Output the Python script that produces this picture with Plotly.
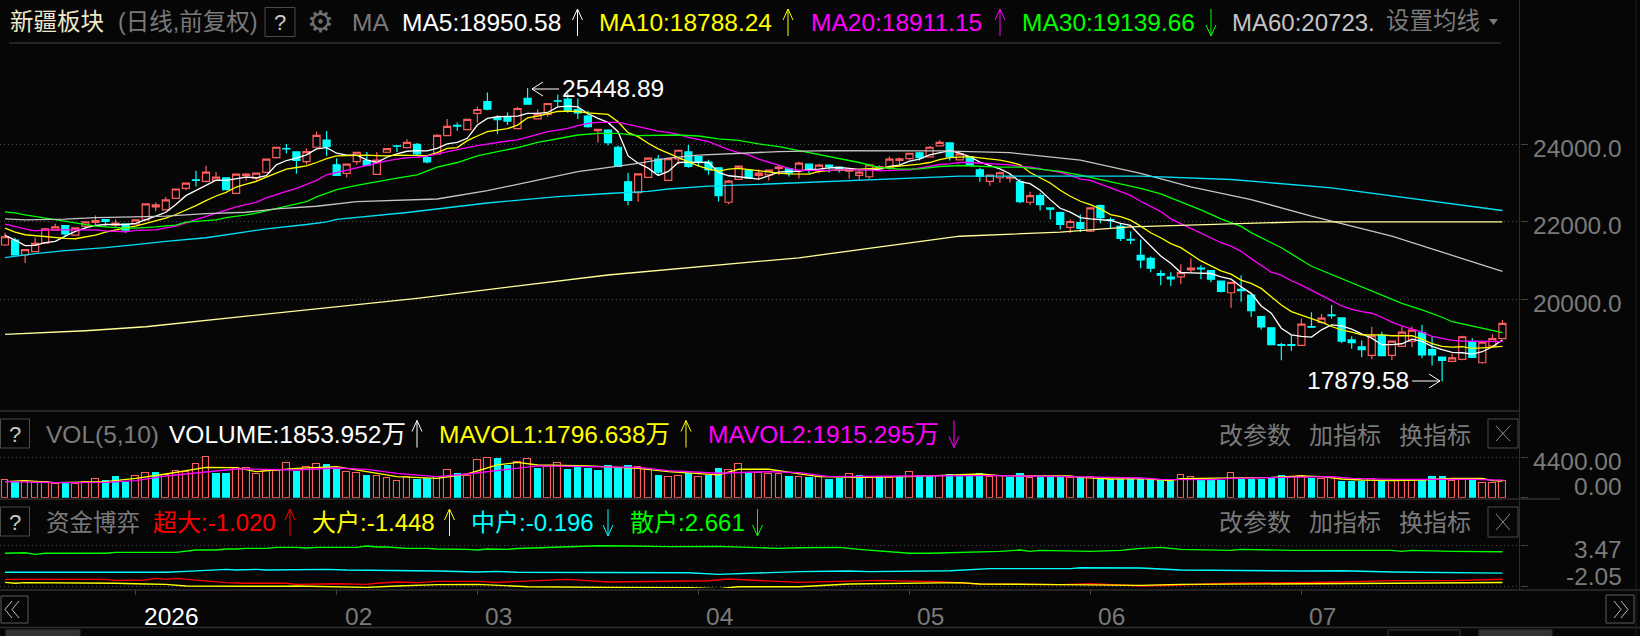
import plotly.graph_objects as go

W, H = 1640, 636
BG = "#060606"
RED = "#ff5f5f"
CYAN = "#00ffff"
GREY = "#7a7a7a"
LINE = "#2e2e2e"
FONT = "Liberation Sans, Noto Sans CJK SC, sans-serif"

opens = [21401,21529,21144,21230,21452,21786,21905,21657,21888,21982,22059,21914,21939,21939,22051,22384,22307,22606,22863,23085,23042,23068,23136,22735,23188,23128,23273,23658,23889,23803,23555,23923,
24111,23470,23248,23555,23581,23222,23795,23957,23915,24000,23658,23752,24222,24487,24376,24795,25103,24684,24701,24402,25188,24658,24770,25120,25163,24898,24727,24350,24368,23923,23034,22751,
23145,23615,23068,23624,23803,23684,23538,23393,22504,23094,23325,23196,23213,23376,23367,23325,23487,23316,23461,23410,23307,23196,23162,23367,23384,23581,23632,23778,23675,23957,24034,23598,23684,23342,23042,23136,23128,23034,22504,22675,22359,22239,21855,21982,21760,22418,22059,21880,21546,21136,21059,20666,20572,20580,20760,20803,20743,20469,20170,20256,20111,19555,19265,18829,18829,18812,19299,19402,19598,19521,18957,18777,18555,19068,18555,18786,18923,19136,18700,18512,18401,18452,18906,18364,18795,18984]
closes = [21614,21144,21281,21444,21820,21871,21691,21845,22000,22033,22008,21965,21786,22051,22461,22435,22564,22846,23000,23068,23282,23154,22829,23230,23230,23256,23615,23923,23880,23581,23812,24231,
23940,23196,23487,23795,23461,23590,23889,23949,24051,23752,23547,24231,24462,24470,24641,24898,24906,24633,24599,24923,25035,24778,25052,25111,24881,24812,24453,24385,24043,23427,22555,23234,
23641,23282,23632,23846,23427,23538,23342,22675,23051,23436,23128,23256,23333,23410,23256,23513,23342,23461,23419,23376,23342,23282,23470,23427,23615,23624,23769,23658,23923,24051,23675,23752,23461,23171,23205,23265,23154,22521,22675,22444,22325,21931,22008,21828,22358,22110,22042,21572,21529,21016,20802,20623,20530,20691,20803,20785,20520,20204,20435,20222,19709,19290,18829,18812,18812,19359,19282,19513,19581,18923,18880,18700,19060,18546,18923,19153,19205,18564,18564,18427,18487,19035,18503,18898,18984,19381]
highs = [21717,21589,21298,21589,21837,21948,21914,21854,22017,22162,22059,22059,21948,22068,22470,22495,22641,22855,23009,23316,23444,23282,23145,23239,23256,23265,23624,23932,24009,23812,23897,24333,
24342,23641,23496,23803,23803,23803,23898,23983,24128,24034,23718,24257,24650,24564,24650,24975,25334,24752,24821,24966,25448.89,24898,25060,25282,25325,25180,24864,24393,24385,23966,23265,23243,
23650,23726,23641,23855,23983,23692,23598,23402,23077,23445,23359,23359,23342,23444,23402,23547,23496,23496,23478,23419,23376,23342,23496,23461,23684,23658,23778,23803,23957,24103,24043,23785,23692,23393,23214,23299,23239,23102,22778,22743,22368,22265,22059,22188,22367,22444,22110,21965,21752,21546,21102,20752,20701,20905,21059,20880,20752,20478,20444,20624,20120,19564,19274,18871,19077,19504,19667,19624,19855,19530,19042,18940,19290,19162,18932,19290,19299,19342,19025,18521,18598,19060,18994,18915,19097,19466]
lows = [21375,21136,20939,21221,21444,21768,21615,21649,21845,21888,21888,21845,21717,21931,22042,22273,22299,22598,22812,22914,23017,23060,22820,22726,23068,23034,23265,23632,23760,23239,23478,23915,
23701,23188,23145,23470,23444,23213,23778,23803,23906,23726,23504,23735,24214,24350,24368,24556,24881,24265,24496,24393,25017,24650,24710,24983,24812,24650,24427,24043,23966,23418,22427,22519,
23136,23205,23059,23487,23393,23427,23213,22521,22452,23085,23119,23085,23068,23205,23171,23120,23248,23248,23273,23273,23111,23085,23111,23342,23342,23470,23598,23581,23666,23940,23581,23580,23452,23034,22931,23009,23017,22478,22427,22290,22059,21803,21709,21734,21734,21965,21820,21504,21418,20802,20700,20366,20341,20392,20691,20520,20443,20178,19785,19940,19547,19222,18820,18427,18675,18803,19265,19367,19496,18871,18726,18504,18452,18530,18427,18770,18769,18478,18290,17879.58,18376,18430,18486,18338,18777,18968]

ma5 = [21649,21529,21384,21392,21461,21495,21632,21751,21845,21905,21931,21931,21931,21957,22042,22145,22247,22444,22675,22803,22940,23077,23068,23111,23154,23136,23188,23470,23581,23641,23726,23880,23914,23769,23718,23718,23598,23530,23666,23752,23820,23838,23829,23897,24009,24051,24154,24496,24667,24710,24710,24727,24795,24795,24821,24966,24983,24966,24795,24667,24564,24325,23700,23513,23384,23196,23299,23530,23538,23530,23530,23273,23188,23162,23136,23102,23188,23282,23299,23299,23350,23359,23393,23401,23376,23350,23350,23359,23427,23461,23564,23615,23726,23786,23838,23769,23684,23538,23453,23367,23239,23034,22983,22812,22572,22350,22248,22110,22076,22059,22034,21957,21906,21632,21376,21120,20932,20692,20683,20683,20666,20580,20521,20325,20154,19829,19641,19256,19085,19042,19025,19213,19342,19316,19231,19111,19000,18829,18829,18854,18974,18914,18786,18700,18632,18622,18589,18648,18777,18950.58]
ma10 = [21837,21734,21666,21640,21614,21589,21572,21563,21614,21657,21734,21794,21845,21888,21957,22034,22094,22188,22299,22418,22547,22666,22760,22897,22974,23042,23154,23256,23359,23401,23444,23530,23632,23701,23709,23726,23718,23709,23701,23718,23718,23718,23709,23786,23897,23914,24094,24214,24325,24368,24402,24496,24684,24727,24795,24846,24855,24846,24812,24795,24770,24581,24299,24197,24026,23880,23769,23641,23547,23444,23359,23307,23359,23376,23342,23325,23273,23256,23239,23230,23230,23299,23325,23342,23333,23350,23367,23376,23410,23436,23453,23487,23530,23607,23658,23680,23684,23650,23624,23590,23538,23470,23273,23128,23000,22812,22658,22530,22444,22333,22188,22136,22042,21888,21718,21590,21436,21333,21162,20990,20863,20735,20650,20496,20410,20282,20068,19855,19684,19598,19496,19410,19299,19213,19153,19085,19085,19085,19060,19060,19060,18974,18854,18786,18769,18777,18735,18750,18777,18788.24]
ma20 = [21939,21871,21820,21768,21794,21794,21794,21794,21794,21794,21768,21760,21743,21777,21794,21794,21845,21888,21974,22059,22145,22213,22299,22384,22444,22504,22615,22709,22786,22863,22957,23068,23213,23273,23342,23410,23461,23530,23572,23615,23658,23666,23692,23752,23811,23871,23914,23966,24009,24051,24085,24111,24180,24239,24325,24368,24410,24479,24538,24564,24564,24564,24513,24453,24402,24342,24308,24256,24180,24128,24069,23966,23863,23786,23726,23615,23538,23444,23376,23325,23325,23316,23325,23342,23342,23342,23342,23316,23316,23333,23342,23384,23427,23478,23496,23530,23530,23513,23504,23496,23470,23427,23410,23368,23325,23273,23205,23102,23068,22974,22889,22786,22683,22530,22402,22264,22077,21957,21820,21700,21580,21460,21374,21238,21050,20880,20700,20624,20479,20368,20239,20111,19966,19829,19743,19684,19641,19538,19410,19316,19231,19154,19042,18991,18940,18925,18920,18915,18912,18911.15]

ma30_x = [0,1,2,3,4,5,6,7,8,9,10,11,12,13,14,15,16,17,18,19,20,21,22,23,24,25,26,27,28,29,30,31,32,33,35,37,39,41,43,45,47,49,51,53,55,57,59,61,63,65,67,69,71,73,75,77,79,81,83,85,87,89,91,93,95,97,99,101,103,105,107,109,111,113,115,117,119,121,123,124,127,130,134,137,139,141,143,144,147,149]
ma30 = [22256,22230,22179,22136,22102,22059,22008,21974,21931,21888,21871,21845,21837,21837,21845,21871,21897,21914,21991,22008,22034,22051,22110,22136,22179,22222,22281,22333,22401,22470,22521,22641,22743,22829,22940,23042,23128,23213,23410,23530,23701,23812,23915,24051,24154,24239,24282,24282,24222,24222,24239,24214,24137,24103,24009,23940,23838,23735,23624,23530,23402,23359,23367,23427,23453,23427,23410,23410,23359,23299,23205,23094,22991,22863,22718,22521,22308,22077,21880,21720,21330,20854,20436,20111,19897,19726,19538,19422,19252,19139.66]
ma60_x = [0,2,6,9,14,16,20,24,27,31,35,43,48,53,57,63,66,69,72,75,77,82,88,93,96,100,107,113,118,124,130,138,149]
ma60 = [22076,22050,22068,22110,22136,22145,22213,22247,22333,22401,22519,22589,22803,23079,23293,23510,23641,23718,23760,23795,23812,23838,23838,23829,23809,23783,23590,23251,22900,22575,22145,21628,20723]
ma120_x = [0,3,6,10,13,16,20,23,26,30,32,33,40,48,55,60,64,66,70,75,78,82,88,92,95,113,122,132,143,149]
ma120 = [21076,21178,21255,21332,21409,21495,21589,21708,21820,21931,22000,22065,22240,22485,22650,22730,22785,22846,22923,22965,23000,23034,23102,23145,23181,23176,23091,22877,22490,22292]
ma250_x = [0,8,14,21,29,35,41,60,79,95,105,112,122,129,149]
ma250 = [19097,19190,19293,19484,19706,19871,20026,20628,21071,21628,21732,21871,21956,22000,22000]

volume = [1891,1709,1818,1564,1709,1454,1564,1527,1709,2000,1891,2364,1709,2327,2654,2763,2473,2873,2763,3636,4400,2691,2691,3200,3200,2582,2945,2945,3745,2945,3309,3636,3673,3200,2763,2654,2473,2364,2109,1818,2291,2036,2109,2218,3018,2691,2364,4109,4327,4327,3564,3854,
4176,3276,3312,3744,3132,3384,3240,3024,3564,3204,3564,3312,3096,2484,2232,2412,2664,2232,2484,3240,3024,3672,2736,2736,2556,2592,2412,2232,
2291,2218,2036,2109,2545,2436,2109,2218,2109,2400,2764,2436,2364,2400,2582,2400,2436,2654,2291,2400,
2254,2691,2109,2291,2291,2291,2109,2254,2218,2182,2000,2036,2036,2000,2000,1927,1854,2436,2218,1927,1927,1927,2654,2073,2036,2036,2182,2473,2291,2364,2182,2000,2145,1818,1818,1854,2000,1818,1927,1927,1818,2036,2364,2364,1782,1927,1927,1564,1564,1853.95]
vol_up = [1,0,1,1,1,1,0,1,1,1,0,0,0,1,1,0,1,1,1,1,1,0,0,1,1,1,1,1,1,0,1,1,0,0,1,1,0,1,1,1,1,0,0,1,1,0,1,1,1,0,0,1,
1,0,1,1,0,0,0,0,0,0,0,1,1,0,1,1,0,1,0,0,1,1,0,1,1,1,0,1,
0,1,0,0,1,0,1,0,1,0,1,0,0,1,0,0,0,0,1,1,
0,0,1,0,0,0,1,0,1,0,0,0,0,0,0,0,0,1,1,0,0,0,1,0,0,0,0,0,1,1,0,1,1,0,0,0,1,0,1,1,1,0,0,0,1,1,0,1,1,1]
mavol1_x = [0,2,5,10,13,16,20,23,25,29,33,36,39,43,46,49,51,53,58,63,66,71,73,76,79,81,85,90,97,99,102,106,107,110,113,115,116,117,122,126,129,131,133,135,138,141,144,147,148,149]
mavol1 = [1745,1855,1636,1745,2109,2582,3309,3272,2836,3200,3382,2836,2291,2109,2582,3564,3854,3564,3456,3204,2844,2484,3096,3096,2592,2291,2218,2291,2582,2400,2364,2364,2218,2036,2073,1927,1854,2073,2109,2218,2364,2291,2036,1927,1854,1927,2109,2109,1854,1796.64]
mavol2_x = [0,5,10,13,16,20,23,26,29,33,36,39,43,46,49,51,53,63,66,71,76,79,82,90,98,106,113,115,120,122,126,132,134,138,142,146,149]
mavol2 = [1745,1636,1673,1855,2364,2836,3127,3091,3018,3236,3091,2655,2291,2582,2945,3200,3456,3312,2952,2664,2844,2736,2291,2364,2400,2291,2145,2000,1964,2109,2182,2291,2109,2000,2000,2000,1915.3]

green_x = [0,2,3,4,10,11,17,18,19,21,22,23,24,26,27,29,30,31,35,36,37,38,40,42,43,46,47,48,50,51,56,59,62,66,71,77,79,83,85,90,92,98,99,101,102,103,108,111,112,113,115,116,117,122,123,128,138,139,140,144,149]
green = [2.45,2.53,2.31,2.45,2.45,2.58,2.58,2.71,2.89,2.89,3.02,3.02,3.11,3.11,3.25,3.25,3.16,3.25,3.25,3.43,3.29,3.29,3.11,3.11,3.02,2.98,2.89,3.02,2.98,3.10,3.34,3.47,3.42,3.34,3.38,3.11,3.20,3.25,2.98,2.45,2.45,2.67,2.71,2.89,2.71,2.85,2.71,2.85,2.98,3.11,3.25,3.11,2.98,2.85,2.98,2.85,2.85,2.71,2.85,2.71,2.661]
cyan = [-0.09,-0.09,0.00,-0.09,0.04,0.31,0.22,0.31,0.22,0.31,0.22,0.17,0.08,-0.05,0.04,-0.09,-0.09,-0.09,-0.14,-0.36,-0.27,-0.14,0.00,0.08,0.00,0.13,0.40,0.40,0.53,0.49,0.22,0.08,0.13,-0.05,-0.14,-0.196]
cyan_x = [0,10,11,16,18,22,23,25,26,32,34,41,43,47,49,51,58,63,68,71,73,77,79,84,86,94,98,106,107,113,117,129,133,138,145,149]
red_x = [0,10,11,14,15,16,17,18,20,22,24,28,29,33,36,37,39,41,43,47,49,52,56,60,65,70,72,74,79,87,93,97,105,108,113,117,122,133,138,144,149]
reds = [-1.03,-1.03,-1.16,-1.12,-0.90,-1.03,-0.90,-1.03,-1.25,-1.47,-1.56,-1.56,-1.70,-1.61,-1.70,-1.56,-1.39,-1.47,-1.30,-1.30,-1.43,-1.30,-1.03,-1.39,-1.34,-1.21,-0.98,-1.12,-1.43,-1.16,-1.34,-1.65,-1.74,-1.61,-1.92,-1.79,-1.56,-1.38,-1.20,-1.20,-1.02]
yellow_x = [0,1,2,10,11,14,16,18,26,28,29,33,36,39,43,47,52,60,68,71,73,79,84,95,97,105,113,117,133,138,149]
yellow = [-1.43,-1.56,-1.47,-1.47,-1.56,-1.65,-1.70,-1.92,-2.01,-1.96,-1.92,-2.01,-2.10,-1.92,-1.74,-1.70,-2.01,-2.10,-2.14,-2.28,-2.01,-2.01,-1.65,-1.47,-1.65,-1.74,-1.83,-1.70,-1.65,-1.56,-1.448]

month_idx = [13, 33, 47, 69, 90, 108, 129]
month_txt = ["2026", "02", "03", "04", "05", "06", "07"]
price_ticks = [20000, 22000, 24000]
vol_ticks = [0, 4400]
fund_ticks = [-2.05, 3.47]
idx = list(range(len(opens)))

X_FRAC = 1519.5 / W
def py(p):
    return 1 - p / H

fig = go.Figure()
fig.add_trace(go.Candlestick(x=idx, open=opens, high=highs, low=lows, close=closes, xaxis="x", yaxis="y",
    increasing=dict(line=dict(color=RED, width=1.2), fillcolor=BG),
    decreasing=dict(line=dict(color=CYAN, width=1.2), fillcolor=CYAN),
    whiskerwidth=0, showlegend=False))
LW = 1.3
for x, y, c in [(idx, ma5, "#ffffff"), (idx, ma10, "#ffff00"), (idx, ma20, "#ff00ff"), (ma30_x, ma30, "#00ff00"),
                (ma60_x, ma60, "#c4c4c4"), (ma120_x, ma120, "#00e0f8"), (ma250_x, ma250, "#ffff99")]:
    fig.add_trace(go.Scatter(x=x, y=y, mode="lines", line=dict(color=c, width=LW), xaxis="x", yaxis="y", showlegend=False))

up_x = [i for i in idx if vol_up[i]]
dn_x = [i for i in idx if not vol_up[i]]
fig.add_trace(go.Bar(x=up_x, y=[volume[i] for i in up_x], width=0.66, xaxis="x", yaxis="y2", showlegend=False,
                     marker=dict(color=BG, line=dict(color=RED, width=1.1))))
fig.add_trace(go.Bar(x=dn_x, y=[volume[i] for i in dn_x], width=0.72, xaxis="x", yaxis="y2", showlegend=False,
                     marker=dict(color=CYAN, line=dict(width=0))))
for x, y, c in [(mavol1_x, mavol1, "#ffff00"), (mavol2_x, mavol2, "#ff00ff")]:
    fig.add_trace(go.Scatter(x=x, y=y, mode="lines", line=dict(color=c, width=LW), xaxis="x", yaxis="y2", showlegend=False))
for x, y, c in [(green_x, green, "#00ff00"), (cyan_x, cyan, "#00ffff"), (red_x, reds, "#ff0000"), (yellow_x, yellow, "#ffff00")]:
    fig.add_trace(go.Scatter(x=x, y=y, mode="lines", line=dict(color=c, width=1.4), xaxis="x", yaxis="y3", showlegend=False))

anns = []
def T(x, y, text, color=GREY, anchor="left", size=24.5, family=FONT, bg=None):
    anns.append(dict(xref="paper", yref="paper", x=x / W, y=py(y), text=text, showarrow=False, xanchor=anchor,
                     yanchor="middle", borderpad=0, bgcolor=bg, font=dict(family=family, size=size, color=color)))

# header row
T(9, 22.5, "新疆板块", "#eee8c8", size=23.5)
T(117, 22.5, "(日线,前复权)", GREY, size=23.5)
T(280, 22.5, "?", "#c8c8c8", "center", 22)
T(320.5, 21.5, "⚙", "#6e6e6e", "center", 30, "DejaVu Sans")
T(351, 22.5, "MA", GREY)
T(401, 22.5, "MA5:18950.58", "#ffffff")
T(598, 22.5, "MA10:18788.24", "#ffff00")
T(809.5, 22.5, "MA20:18911.15", "#ff00ff")
T(1020.5, 22.5, "MA30:19139.66", "#00ff00")
T(1231, 22.5, "MA60:20723.", "#c4c4c4", size=24)
T(1385, 21, "设置均线", GREY, size=23.5)
# volume row
T(14.7, 434, "?", "#c8c8c8", "center", 22)
T(45, 434, "VOL(5,10)", GREY)
T(168, 434, "VOLUME:1853.952万", "#ffffff")
T(438, 434, "MAVOL1:1796.638万", "#ffff00")
T(706.5, 434, "MAVOL2:1915.295万", "#ff00ff")
# fund row
T(14.7, 522.5, "?", "#c8c8c8", "center", 22)
T(45, 522.5, "资金博弈", GREY, size=23.5)
T(152, 522.5, "超大:-1.020", "#ff0000", size=24)
T(311, 522.5, "大户:-1.448", "#ffff00", size=24)
T(470, 522.5, "中户:-0.196", "#00ffff", size=24)
T(628.5, 522.5, "散户:2.661", "#00ff00", size=24)
for yy in (435, 522.7):
    T(1218, yy, "改参数", GREY, size=24)
    T(1308, yy, "加指标", GREY, size=24)
    T(1398, yy, "换指标", GREY, size=24)
T(1306, 380, "17879.58", "#ffffff")
T(561, 88.5, "25448.89", "#ffffff")

RIGHT = 1624 / W
for v in price_ticks:
    anns.append(dict(xref="paper", yref="y", x=RIGHT, y=v, text=f"{v:.1f}", showarrow=False, xanchor="right", yanchor="middle",
                     yshift=-4, font=dict(family=FONT, size=24.5, color=GREY)))
for v, s in zip(vol_ticks, (11.7, -4.4)):
    anns.append(dict(xref="paper", yref="y2", x=RIGHT, y=v, text=f"{v:.2f}", showarrow=False, xanchor="right", yanchor="middle",
                     yshift=s, font=dict(family=FONT, size=24.5, color=GREY)))
for v, s in zip(fund_ticks, (10.5, -3.6)):
    anns.append(dict(xref="paper", yref="y3", x=RIGHT, y=v, text=f"{v:.2f}", showarrow=False, xanchor="right", yanchor="middle",
                     yshift=s, font=dict(family=FONT, size=24.5, color=GREY)))
for i, t in zip(month_idx, month_txt):
    anns.append(dict(xref="x", yref="paper", x=i, y=py(616), text=t, showarrow=False, xanchor="left", yanchor="middle", xshift=6,
                     font=dict(family=FONT, size=24.5, color="#ffffff" if t == "2026" else GREY)))

shapes = []
def hline(y, x0=0, x1=W, c=LINE):
    shapes.append(dict(type="line", xref="paper", yref="paper", x0=x0 / W, x1=x1 / W, y0=py(y), y1=py(y), line=dict(color=c, width=1.5)))
def vline(x, y0, y1, c=LINE):
    shapes.append(dict(type="line", xref="paper", yref="paper", x0=x / W, x1=x / W, y0=py(y0), y1=py(y1), line=dict(color=c, width=1)))
def box(x0, y0, x1, y1, c="#4a4a4a", fill=None):
    shapes.append(dict(type="rect", xref="paper", yref="paper", x0=x0 / W, x1=x1 / W, y0=py(y0), y1=py(y1),
                       line=dict(color=c, width=1), fillcolor=fill))
def path(pts, c):
    d = "M " + " L ".join(f"{x / W:.5f},{py(y):.5f}" for x, y in pts)
    shapes.append(dict(type="path", xref="paper", yref="paper", path=d, line=dict(color=c, width=1)))
def arrow_v(x, y0, y1, up, c):
    tip, tail = (y0, y1) if up else (y1, y0)
    d = 1 if up else -1
    path([(x, tail), (x, tip)], c)
    path([(x - 5, tip + d * 11), (x, tip), (x + 5, tip + d * 11)], c)
def arrow_h(x0, x1, y, c="#ffffff"):
    d = 1 if x1 < x0 else -1
    path([(x0, y), (x1, y)], c)
    path([(x1 + d * 11, y - 7), (x1, y), (x1 + d * 11, y + 7)], c)

hline(43, 9, 1501)
hline(411, 0, 1519)
hline(499, 0, 1560)
hline(590, 0, 1640)
hline(627.5, 0, 1640)
vline(1519.5, 0, 590)
vline(1636, 0, 636, "#1c1c1c")
for yy, cc, up, xx in [(22.5, "#ffffff", True, 577.5), (22.5, "#ffff00", True, 788), (22.5, "#ff00ff", True, 1000), (22.5, "#00ff00", False, 1211),
                       (434, "#ffffff", True, 417), (434, "#ffff00", True, 686), (434, "#ff00ff", False, 954),
                       (522.5, "#ff0000", True, 290), (522.5, "#ffff00", True, 449.5), (522.5, "#00ffff", False, 608), (522.5, "#00ff00", False, 757.5)]:
    arrow_v(xx, yy - 13.5, yy + 13.5, up, cc)
arrow_h(559, 532, 89)
arrow_h(1412, 1440, 381)
box(265, 7.5, 295, 36.5)
box(0.5, 419, 29.5, 448)
box(0.5, 507, 29.5, 536)
for y0, y1 in [(419, 448), (507, 537)]:
    box(1488, y0, 1518, y1)
    path([(1496, y0 + 7), (1510, y1 - 7)], "#8a8a8a")
    path([(1510, y0 + 7), (1496, y1 - 7)], "#8a8a8a")
box(1, 596, 28, 623, "#5a5a5a")
box(1606, 595, 1634, 623, "#5a5a5a")
path([(12, 601), (5, 609.5), (12, 618)], "#bcbcbc"); path([(19, 601), (12, 609.5), (19, 618)], "#bcbcbc")
path([(1614, 601), (1621, 609.5), (1614, 618)], "#bcbcbc"); path([(1621, 601), (1628, 609.5), (1621, 618)], "#bcbcbc")
box(6, 630, 80, 640, "#333333", "#333333")
box(1388, 630, 1460, 640, "#3a3a3a", BG)
box(1479, 630, 1552, 640, "#333333", "#333333")
shapes.append(dict(type="path", xref="paper", yref="paper", path=f"M {1489/W},{py(19)} L {1498/W},{py(19)} L {1493.5/W},{py(25)} Z",
                   fillcolor="#7a7a7a", line=dict(width=0)))

def yax(lo, hi, px_top, px_bot, ticks):
    return dict(domain=[py(px_bot), py(px_top)], range=[lo, hi], side="right", anchor="x", tickmode="array", tickvals=ticks,
                showticklabels=False, ticks="outside", ticklen=7, tickcolor="#444444", showgrid=True, gridcolor="#4a4a4a",
                griddash="1px,3px", gridwidth=1, zeroline=False, showline=False, fixedrange=True)

fig.update_layout(
    width=W, height=H, autosize=False, margin=dict(l=0, r=0, t=0, b=0), paper_bgcolor=BG, plot_bgcolor=BG,
    barmode="overlay", bargap=0, showlegend=False, dragmode=False, boxgap=0.3, boxgroupgap=0,
    xaxis=dict(domain=[0, X_FRAC], range=[-0.4975, 150.7], anchor="y3", tickmode="array", tickvals=month_idx, ticktext=[""] * 7,
               ticks="outside", ticklen=6, tickcolor="#444444", showgrid=False, zeroline=False, showline=False,
               rangeslider=dict(visible=False), fixedrange=True),
    yaxis=yax(17119, 26613, 43, 411, price_ticks),
    yaxis2=yax(0, 9443, 411, 497.7, vol_ticks),
    yaxis3=yax(-2.185, 9.71, 499, 588, fund_ticks),
    annotations=anns, shapes=shapes, hoverlabel=dict(font=dict(family=FONT)),
)
fig.write_html("out.html", config=dict(displayModeBar=False),
               post_script="document.body.style.margin='0';document.body.style.background='#060606';document.body.style.overflow='hidden';")
